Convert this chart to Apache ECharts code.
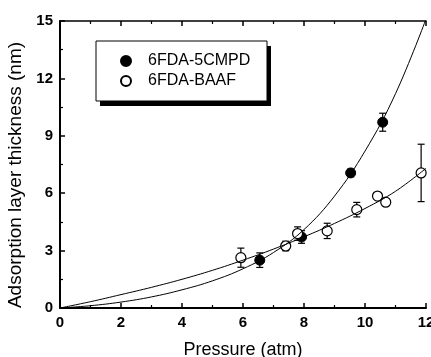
<!DOCTYPE html>
<html>
<head>
<meta charset="utf-8">
<script src="https://cdn.jsdelivr.net/npm/echarts@6/dist/echarts.min.js"></script>
<style>
html,body{margin:0;padding:0;background:#fff;}
#c{width:431px;height:357px;}
</style>
</head>
<body>
<div id="c"></div>
<script>
// Measured points (pressure, thickness, error half-width)
var cmpdX = [6.55, 7.92, 9.53, 10.58];
var cmpdY = [2.5, 3.71, 7.06, 9.71];
var cmpdErr = [0.38, 0.33, 0.2, 0.47];

var baafX = [5.93, 7.40, 7.79, 8.76, 9.73, 10.41, 10.68, 11.84];
var baafY = [2.63, 3.24, 3.89, 4.03, 5.14, 5.85, 5.53, 7.06];
var baafErr = [0.5, 0.25, 0.35, 0.4, 0.38, 0, 0, 1.5];

// Fitted curves
var cmpdFitX = [0, 1, 2, 3, 4, 5, 6, 7, 8, 9, 10, 11, 12];
var cmpdFitY = [0, 0.12, 0.31, 0.58, 0.95, 1.42, 2.05, 2.9, 4.1, 5.85, 8.2, 11.2, 15.1];
var baafFitX = [0, 1, 2, 3, 4, 5, 6, 7, 8, 9, 10, 11, 12];
var baafFitY = [0, 0.33, 0.7, 1.08, 1.5, 1.97, 2.5, 3.08, 3.72, 4.42, 5.2, 6.1, 7.3];

var seriesNames = ['6FDA-5CMPD', '6FDA-BAAF'];
var xTitle = 'Pressure (atm)';
var yTitle = 'Adsorption layer thickness (nm)';

function pairs(xs, ys) { return xs.map(function (x, i) { return [x, ys[i]]; }); }
function errs(xs, ys, es) { return xs.map(function (x, i) { return [x, ys[i] - es[i], ys[i] + es[i]]; }); }

function errRender(params, api) {
  var x = api.value(0), lo = api.value(1), hi = api.value(2);
  if (hi - lo <= 0) return null;
  var p1 = api.coord([x, lo]), p2 = api.coord([x, hi]);
  var w = 3.5;
  var st = { stroke: '#000', lineWidth: 1.2 };
  return {
    type: 'group',
    children: [
      { type: 'line', shape: { x1: p1[0], y1: p1[1], x2: p2[0], y2: p2[1] }, style: st },
      { type: 'line', shape: { x1: p1[0] - w, y1: p1[1], x2: p1[0] + w, y2: p1[1] }, style: st },
      { type: 'line', shape: { x1: p2[0] - w, y1: p2[1], x2: p2[0] + w, y2: p2[1] }, style: st }
    ]
  };
}

var FONT = '"Liberation Sans", Arial, sans-serif';
var chart = echarts.init(document.getElementById('c'), null, { renderer: 'canvas' });
chart.setOption({
  animation: false,
  backgroundColor: '#fff',
  grid: { left: 60, right: 5, top: 21, bottom: 49, containLabel: false, outerBoundsMode: 'none' },
  graphic: [
    { type: 'rect', z: 0, shape: { x: 100, y: 46, width: 171, height: 60 }, style: { fill: '#000' } },
    { type: 'rect', z: 1, shape: { x: 96, y: 41, width: 171, height: 60 }, style: { fill: '#fff', stroke: '#000', lineWidth: 1 } }
  ],
  legend: {
    data: seriesNames,
    orient: 'vertical',
    left: 120,
    top: 53,
    padding: 0,
    itemGap: 4,
    itemWidth: 10,
    itemHeight: 10,
    textStyle: { fontFamily: FONT, fontSize: 16, color: '#000', padding: [0, 0, 0, 12], lineHeight: 16 }
  },
  xAxis: [{
    type: 'value', min: 0, max: 12, interval: 2, position: 'bottom',
    name: xTitle, nameLocation: 'middle', nameGap: 33,
    nameTextStyle: { fontFamily: FONT, fontSize: 18, color: '#000' },
    axisLine: { onZero: false, lineStyle: { color: '#000', width: 2 } },
    axisTick: { inside: true, length: 5, lineStyle: { color: '#000', width: 1.5 } },
    minorTick: { show: true, splitNumber: 2, length: 3, lineStyle: { color: '#000', width: 1.2 } },
    axisLabel: { fontFamily: FONT, fontSize: 15, fontWeight: 'bold', color: '#000', margin: 7, hideOverlap: false },
    splitLine: { show: false }
  }, {
    type: 'value', min: 0, max: 12, interval: 2, position: 'top',
    axisLine: { onZero: false, lineStyle: { color: '#000', width: 1.5 } },
    axisTick: { inside: true, length: 5, lineStyle: { color: '#000', width: 1.5 } },
    minorTick: { show: true, splitNumber: 2, length: 3, lineStyle: { color: '#000', width: 1.2 } },
    axisLabel: { show: false },
    splitLine: { show: false }
  }],
  yAxis: {
    type: 'value', min: 0, max: 15, interval: 3,
    name: yTitle, nameLocation: 'middle', nameGap: 28, nameRotate: 90,
    nameTextStyle: { fontFamily: FONT, fontSize: 19, color: '#000', padding: [0, 21, 0, 0] },
    axisLine: { onZero: false, lineStyle: { color: '#000', width: 2 } },
    axisTick: { inside: true, length: 5, lineStyle: { color: '#000', width: 1.5 } },
    minorTick: { show: true, splitNumber: 2, length: 3, lineStyle: { color: '#000', width: 1.2 } },
    axisLabel: { fontFamily: FONT, fontSize: 15, fontWeight: 'bold', color: '#000', margin: 7 },
    splitLine: { show: false }
  },
  series: [
    { type: 'custom', name: 'err1', renderItem: errRender, data: errs(cmpdX, cmpdY, cmpdErr), z: 2, encode: { x: 0, y: [1, 2] } },
    { type: 'custom', name: 'err2', renderItem: errRender, data: errs(baafX, baafY, baafErr), z: 2, encode: { x: 0, y: [1, 2] } },
    { type: 'scatter', name: seriesNames[0], data: pairs(cmpdX, cmpdY), symbol: 'circle', symbolSize: 10,
      itemStyle: { color: '#000', borderColor: '#000', borderWidth: 1, opacity: 1 }, z: 3 },
    { type: 'scatter', name: seriesNames[1], data: pairs(baafX, baafY), symbol: 'circle', symbolSize: 10,
      itemStyle: { color: '#fff', borderColor: '#000', borderWidth: 1.2, opacity: 1 }, z: 3 },
    { type: 'line', name: 'fit1', data: pairs(cmpdFitX, cmpdFitY), smooth: 0.4, showSymbol: false,
      lineStyle: { color: '#000', width: 1 }, z: 4, clip: true },
    { type: 'line', name: 'fit2', data: pairs(baafFitX, baafFitY), smooth: 0.4, showSymbol: false,
      lineStyle: { color: '#000', width: 1 }, z: 4, clip: true }
  ]
});
</script>
</body>
</html>
